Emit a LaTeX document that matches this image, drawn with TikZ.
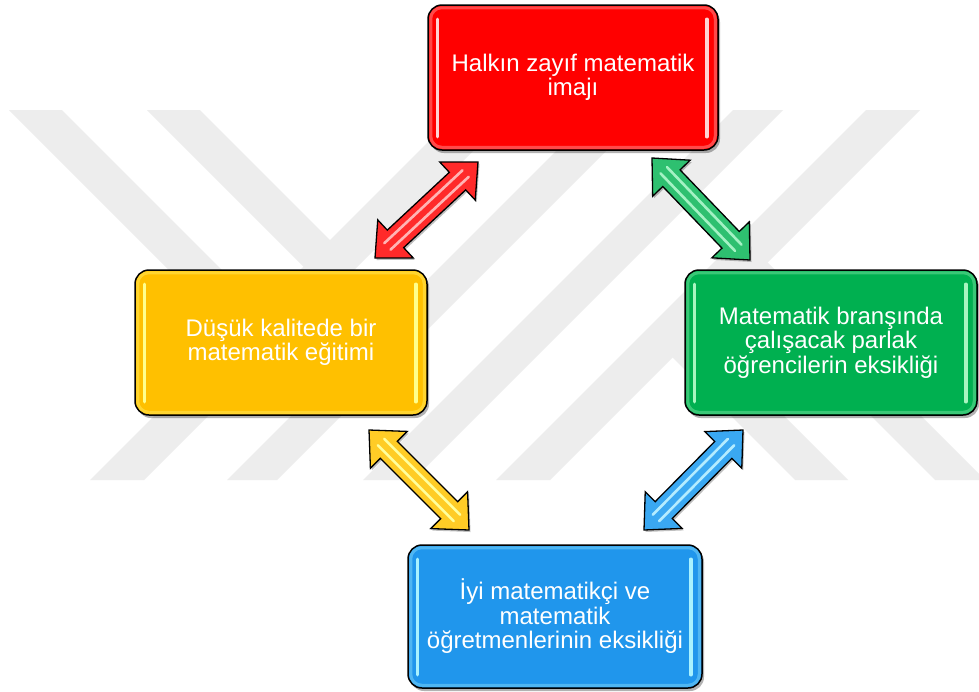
\documentclass[tikz,border=0pt]{standalone}
\usepackage{fontspec}
\setmainfont{Liberation Sans}
\usetikzlibrary{calc,shadows}

\definecolor{boxred}{HTML}{FF0000}
\definecolor{boxyellow}{HTML}{FFC000}
\definecolor{boxgreen}{HTML}{00B050}
\definecolor{boxblue}{HTML}{2096EC}
\definecolor{shinered}{HTML}{FFD4D4}
\definecolor{shineyellow}{HTML}{FFFF8C}
\definecolor{shinegreen}{HTML}{A8F5C0}
\definecolor{shineblue}{HTML}{A8F2FF}
\definecolor{arrred}{HTML}{FF2A2A}
\definecolor{arryellow}{HTML}{FFCC26}
\definecolor{arrgreen}{HTML}{2EC070}
\definecolor{arrblue}{HTML}{3AA8F2}
\definecolor{stripered}{HTML}{FFB4B4}
\definecolor{stripeyellow}{HTML}{FFFF9C}
\definecolor{stripegreen}{HTML}{A4F2C4}
\definecolor{stripeblue}{HTML}{B4ECFF}
\definecolor{mark}{HTML}{EDEDED}

\tikzset{
  card/.style={rectangle, rounded corners=14pt, draw=black, line width=1.5pt,
    text=white, align=center, inner sep=0pt,
    font=\fontsize{24}{24.5}\selectfont,
    drop shadow={shadow xshift=2pt, shadow yshift=-3pt, opacity=.3, fill=black}},
  shine/.style={line width=3.5pt, line cap=round},
  bevel/.style={line width=3pt, rounded corners=11pt, opacity=.35},
  band/.style={fill=mark},
  arrowbody/.style={draw=black, line width=1.3pt, line join=miter,
    drop shadow={shadow xshift=1.5pt, shadow yshift=-2pt, opacity=.25, fill=black}},
  stripe/.style={line width=2.6pt, line cap=round},
}

% glossy highlights on a card: #1 node name, #2 highlight colour
\newcommand\cardshine[2]{%
  \draw[bevel, #2] ($(#1.north west)+(3.5,3.5)$) rectangle ($(#1.south east)+(-3.5,-3.5)$);
  \draw[shine, #2] ($(#1.north west)+(10,15)$) -- ($(#1.south west)+(10,-14)$);
  \draw[shine, #2] ($(#1.north east)+(-12,15)$) -- ($(#1.south east)+(-12,-14)$);
}

% block double arrow between two tips: #1, #2 tips, #3 fill, #4 stripe colour
\newcommand\glossyarrow[4]{%
  \path ($(#1)!28pt!(#2)$) coordinate (ga-p)
        ($(#2)!28pt!(#1)$) coordinate (ga-q)
        ($(#1)!17pt!(#2)$) coordinate (ga-s)
        ($(#2)!17pt!(#1)$) coordinate (ga-t);
  \draw[arrowbody, fill=#3] (#1)
    -- ($(ga-p)!26pt!90:(#2)$) -- ($(ga-p)!12pt!90:(#2)$)
    -- ($(ga-q)!12pt!-90:(#1)$) -- ($(ga-q)!26pt!-90:(#1)$)
    -- (#2)
    -- ($(ga-q)!26pt!90:(#1)$) -- ($(ga-q)!12pt!90:(#1)$)
    -- ($(ga-p)!12pt!-90:(#2)$) -- ($(ga-p)!26pt!-90:(#2)$)
    -- cycle;
  \draw[stripe, #4] ($(ga-s)!4.5pt!90:(#2)$) -- ($(ga-t)!4.5pt!-90:(#1)$);
  \draw[stripe, #4] ($(ga-s)!4.5pt!-90:(#2)$) -- ($(ga-t)!4.5pt!90:(#1)$);
}

\begin{document}
\begin{tikzpicture}[x=1pt, y=-1pt]
\useasboundingbox (0,0) rectangle (979,691);
\fill[white] (0,0) rectangle (979,691);

% faint striped emblem in the background
\fill[band] (460,110) -- (514,110) -- (144,480) -- (90,480) -- cycle;
\fill[band] (597,110) -- (647,110) -- (277,480) -- (227,480) -- cycle;
\fill[band] (733,110) -- (783,110) -- (413,480) -- (363,480) -- cycle;
\fill[band] (866,110) -- (920,110) -- (550,480) -- (496,480) -- cycle;
\fill[band] (9,110) -- (62,110) -- (274.5,322.5) -- (248,349) -- cycle;
\fill[band] (147,110) -- (200,110) -- (343.5,253.5) -- (317,280) -- cycle;
\fill[band] (729,274) -- (754,249) -- (979,474) -- (979,480) -- (935,480) -- cycle;
\fill[band] (659,344) -- (685.5,317.5) -- (848,480) -- (795,480) -- cycle;

% arrow tips
\coordinate (redA) at (375,258);
\coordinate (redB) at (478,162);
\coordinate (greenA) at (652,158);
\coordinate (greenB) at (750,260);
\coordinate (yellowA) at (369,430);
\coordinate (yellowB) at (469,530);
\coordinate (blueA) at (644,530);
\coordinate (blueB) at (743,430);

\glossyarrow{redA}{redB}{arrred}{stripered}
\glossyarrow{greenA}{greenB}{arrgreen}{stripegreen}
\glossyarrow{yellowA}{yellowB}{arryellow}{stripeyellow}
\glossyarrow{blueA}{blueB}{arrblue}{stripeblue}

% the four cards
\node[card, fill=boxred, minimum width=290pt, minimum height=145pt] (image) at (573,77.5)
  {Halkın zayıf matematik\\imajı};
\node[card, fill=boxyellow, minimum width=292pt, minimum height=145pt] (quality) at (281,342.5)
  {Düşük kalitede bir\\matematik eğitimi};
\node[card, fill=boxgreen, minimum width=292pt, minimum height=145pt] (students) at (831,342.5)
  {Matematik branşında\\çalışacak parlak\\öğrencilerin eksikliği};
\node[card, fill=boxblue, minimum width=294pt, minimum height=143pt] (teachers) at (555,616.5)
  {İyi matematikçi ve\\matematik \\öğretmenlerinin eksikliği};

\cardshine{image}{shinered}
\cardshine{quality}{shineyellow}
\cardshine{students}{shinegreen}
\cardshine{teachers}{shineblue}
\end{tikzpicture}
\end{document}
